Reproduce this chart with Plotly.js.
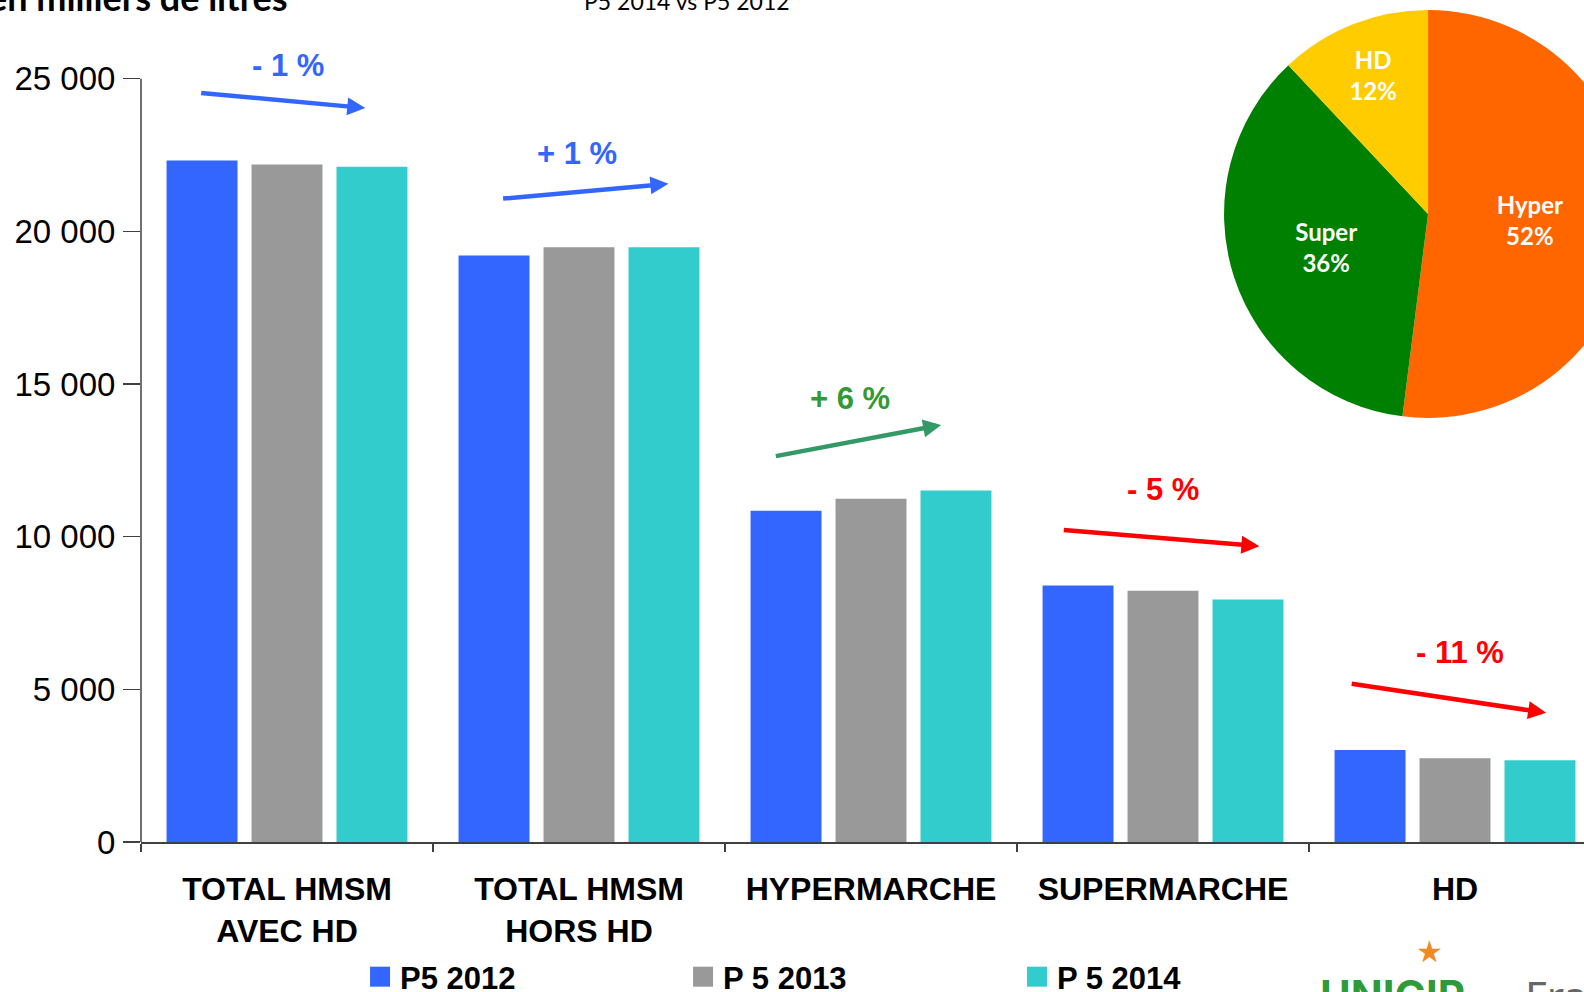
<!DOCTYPE html>
<html><head><meta charset="utf-8">
<script src="https://cdn.plot.ly/plotly-3.0.1.min.js"></script>
<style>
html,body{margin:0;padding:0;overflow:hidden;background:#fff;width:1584px;height:992px}
#chart{position:absolute;left:0;top:-24px;width:1720px;height:1040px}
</style>
</head><body><div id="chart"></div><script>
// ---- data ----
const categories = ['TOTAL HMSM<br>AVEC HD', 'TOTAL HMSM<br>HORS HD', 'HYPERMARCHE', 'SUPERMARCHE', 'HD'];
const seriesNames = ['P5 2012', 'P 5 2013', 'P 5 2014'];
const p5_2012 = [22320, 19210, 10850, 8400, 3010];
const p5_2013 = [22190, 19480, 11240, 8230, 2740];
const p5_2014 = [22120, 19480, 11510, 7940, 2680];
const seriesColors = ['#3366FF', '#999999', '#33CCCC'];
const yTickVals = [0, 5000, 10000, 15000, 20000, 25000];
const yTickText = ['0', '5 000', '10 000', '15 000', '20 000', '25 000'];
const pieLabels = ['Hyper', 'Super', 'HD'];
const pieValues = [52, 36, 12];
const pieColors = ['#FF6600', '#008000', '#FFCC00'];
const changeLabels = ['- 1 %', '+ 1 %', '+ 6 %', '- 5 %', '- 11 %'];
const changeTextColors = ['#3366FF', '#3366FF', '#339933', '#FF0000', '#FF0000'];
const changeArrowColors = ['#3366FF', '#3366FF', '#339966', '#FF0000', '#FF0000'];

// ---- placement of the trend arrows / labels (data coordinates) ----
const arrowTail = [[-0.299, 24540], [0.735, 21070], [1.669, 12630], [2.655, 10220], [3.641, 5190]];
const arrowHead = [[0.268, 24040], [1.306, 21560], [2.240, 13660], [3.330, 9690], [4.312, 4230]];
const labelPos = [[0.002, 25430], [0.994, 22550], [1.929, 14520], [3.001, 11540], [4.018, 6220]];

const FONT = 'Liberation Sans, Arial, sans-serif';
const CAL = 'Lato, Carlito, Calibri, sans-serif';
const legendIds = ['legend', 'legend2', 'legend3'];
const legendX = [0.1405, 0.3477, 0.5619];

const series = [p5_2012, p5_2013, p5_2014];
const traces = series.map((vals, i) => ({
  type: 'bar', x: categories, y: vals, name: seriesNames[i],
  marker: {color: seriesColors[i]}, hoverinfo: 'skip', legend: legendIds[i]
}));
traces.push({
  type: 'pie', labels: pieLabels, values: pieValues, sort: false,
  direction: 'clockwise', rotation: 0,
  marker: {colors: pieColors, line: {width: 0}},
  texttemplate: '%{label}<br>%{percent:.0%}', textposition: 'inside',
  insidetextorientation: 'horizontal',
  textfont: {family: CAL, size: 24, color: '#FFFFFF', weight: 'bold'},
  domain: {x: [0.6947, 0.9564], y: [0.5012, 0.9835]},
  showlegend: false, hoverinfo: 'skip'
});

const annotations = [];
changeLabels.forEach((t, i) => {
  annotations.push({
    xref: 'x', yref: 'y', axref: 'x', ayref: 'y',
    x: arrowHead[i][0], y: arrowHead[i][1], ax: arrowTail[i][0], ay: arrowTail[i][1],
    text: '', showarrow: true, arrowhead: 2, arrowsize: 0.8, arrowwidth: 4.5,
    arrowcolor: changeArrowColors[i], standoff: 0, startstandoff: 0
  });
  annotations.push({
    xref: 'x', yref: 'y', x: labelPos[i][0], y: labelPos[i][1],
    text: t, showarrow: false, xanchor: 'center', yanchor: 'middle',
    font: {family: FONT, size: 31, color: changeTextColors[i], weight: 'bold'}
  });
});
annotations.push({
  xref: 'paper', yref: 'paper', x: 0.0957, y: 0.9988, xanchor: 'right', yanchor: 'middle',
  text: 'en milliers de litres', showarrow: false,
  font: {family: CAL, size: 36, color: '#000000', weight: 'bold'}
});
annotations.push({
  xref: 'paper', yref: 'paper', x: 0.3505, y: 0.994, xanchor: 'center', yanchor: 'middle',
  text: 'P5 2014 vs P5 2012', showarrow: false,
  font: {family: CAL, size: 23, color: '#000000'}
});
annotations.push({
  xref: 'paper', yref: 'paper', x: 0.755, y: -0.181, xanchor: 'left', yanchor: 'middle',
  text: 'UNIGIP', showarrow: false,
  font: {family: 'Inter, Noto Sans, sans-serif', size: 42, color: '#2E9A3A', weight: 'bold'}
});
annotations.push({
  xref: 'paper', yref: 'paper', x: 0.8865, y: -0.181, xanchor: 'left', yanchor: 'middle',
  text: 'FranceAgriMer', showarrow: false,
  font: {family: 'Noto Sans, sans-serif', size: 42, color: '#666666'}
});
annotations.push({
  xref: 'paper', yref: 'paper', x: 0.8268, y: -0.130, xanchor: 'center', yanchor: 'middle',
  text: '★', showarrow: false,
  font: {family: 'DejaVu Sans, sans-serif', size: 30, color: '#F08A24'}
});

const layout = {
  width: 1720, height: 1040,
  margin: {l: 141, r: 20, t: 20, b: 174},
  paper_bgcolor: '#FFFFFF', plot_bgcolor: '#FFFFFF',
  barmode: 'group', bargap: 0.127, bargroupgap: 0.165,
  font: {family: FONT, color: '#000000'},
  xaxis: {
    type: 'category', range: [-0.5, 4.839], showgrid: false, zeroline: false,
    showline: true, linecolor: '#404040', linewidth: 1.5,
    ticks: 'outside', tickson: 'boundaries', ticklen: 8, tickcolor: '#404040', tickwidth: 1.5,
    tickangle: 0, ticklabelstandoff: 18,
    tickfont: {family: FONT, size: 32, color: '#000000', weight: 'bold'}
  },
  yaxis: {
    range: [0, 27710], showgrid: false, zeroline: false, showline: false,
    tickvals: yTickVals, ticktext: yTickText,
    ticks: 'outside', ticklen: 17, tickcolor: '#404040', tickwidth: 1.5,
    ticklabelstandoff: 1,
    tickfont: {family: FONT, size: 33, color: '#000000'}
  },
  shapes: [{
    type: 'line', xref: 'paper', x0: 0, x1: 0, yref: 'y', y0: 0, y1: 25000,
    line: {color: '#404040', width: 1.5}, layer: 'above'
  }],
  showlegend: true,
  annotations: annotations
};
legendIds.forEach((id, i) => {
  layout[id] = {
    orientation: 'h', x: legendX[i], xanchor: 'left', y: -0.1596, yanchor: 'middle',
    font: {family: FONT, size: 31, color: '#000000', weight: 'bold'},
    bgcolor: 'rgba(0,0,0,0)'
  };
});

Plotly.newPlot('chart', traces, layout, {displayModeBar: false, responsive: false, staticPlot: true}).then(gd => {
  gd.querySelectorAll('.legendpoints path').forEach(p => {
    p.setAttribute('d', 'M10,10H-10V-10H10Z');
  });
});
</script></body></html>
